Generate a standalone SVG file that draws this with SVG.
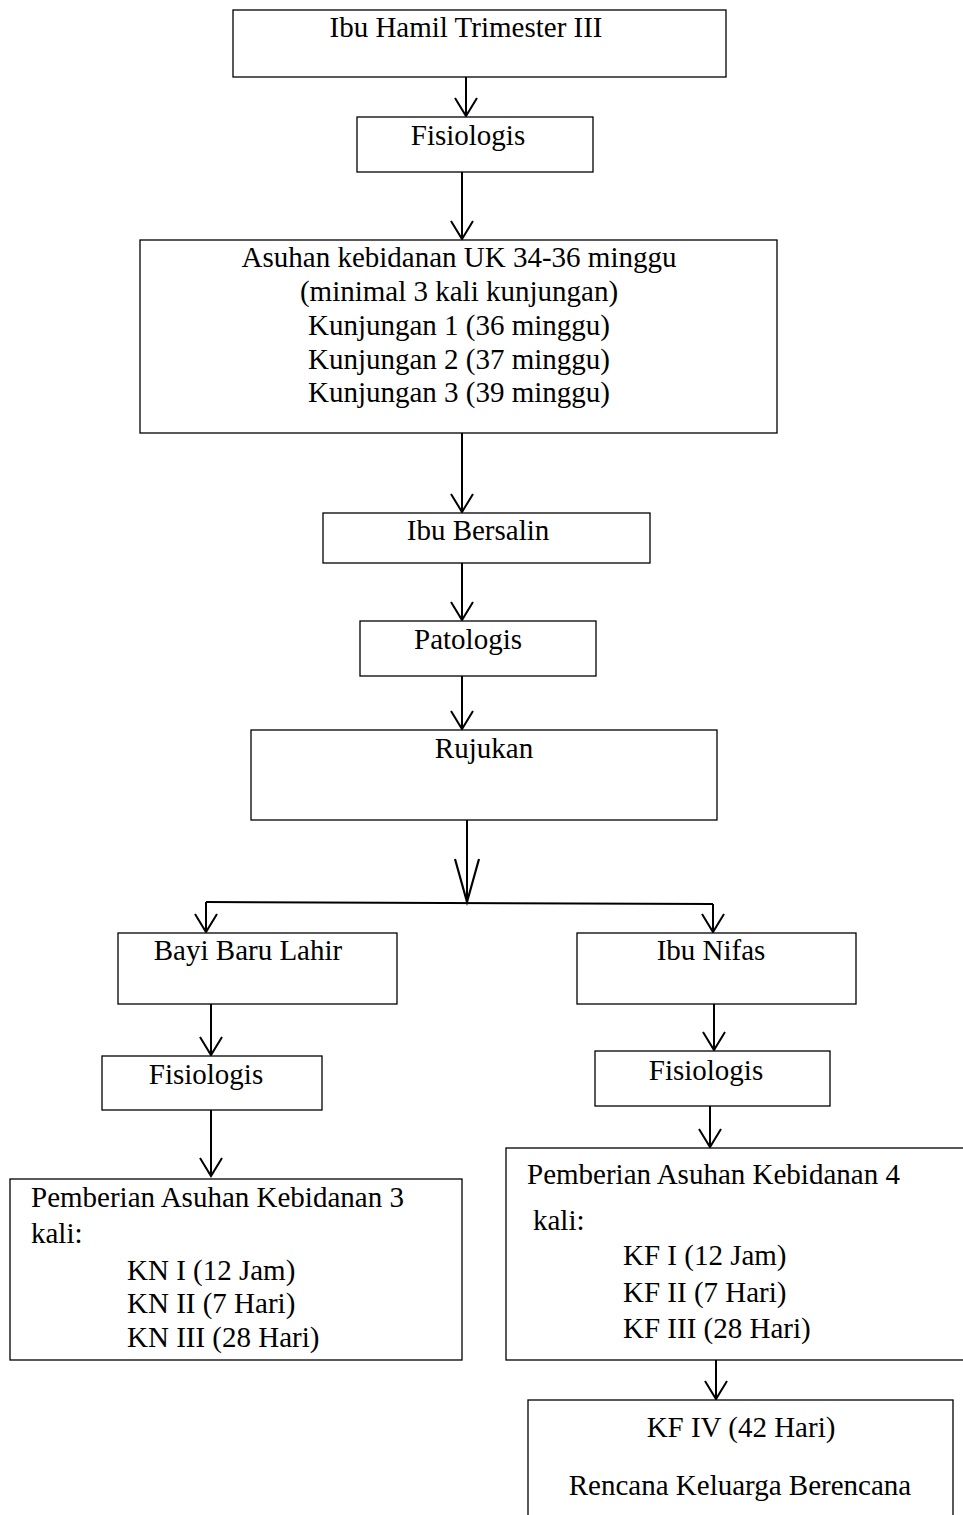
<svg xmlns="http://www.w3.org/2000/svg" width="963" height="1515" viewBox="0 0 963 1515">
<style>
.box{fill:#fff;stroke:#000;stroke-width:1.3}
text{font-family:"Liberation Serif","Times New Roman",serif;font-size:29px;fill:#000}
.c{text-anchor:middle}
.ln{fill:none;stroke:#000;stroke-width:2}
</style>
<defs>
<marker id="ah" markerUnits="userSpaceOnUse" viewBox="-20 -13 22 26" markerWidth="22" markerHeight="26" refX="0" refY="0" orient="auto" overflow="visible">
<path d="M-18,-11 L0,0 L-18,11" fill="none" stroke="#000" stroke-width="2"/>
</marker>
<marker id="ahL" markerUnits="userSpaceOnUse" viewBox="-45 -14 47 28" markerWidth="47" markerHeight="28" refX="0" refY="0" orient="auto" overflow="visible">
<path d="M-43,-12 L0,0 L-43,12" fill="none" stroke="#000" stroke-width="2.2"/>
</marker>
</defs>
<g id="connectors">
<path class="ln" d="M466,77 V116" marker-end="url(#ah)"/>
<path class="ln" d="M462,172 V239" marker-end="url(#ah)"/>
<path class="ln" d="M462,433 V512" marker-end="url(#ah)"/>
<path class="ln" d="M462,563 V620" marker-end="url(#ah)"/>
<path class="ln" d="M462,676 V729" marker-end="url(#ah)"/>
<path class="ln" d="M467,820 V902" marker-end="url(#ahL)"/>
<path class="ln" d="M206,902 L713,904"/>
<path class="ln" d="M206,902 V932" marker-end="url(#ah)"/>
<path class="ln" d="M713,904 V932" marker-end="url(#ah)"/>
<path class="ln" d="M211,1004 V1055" marker-end="url(#ah)"/>
<path class="ln" d="M211,1110 V1176" marker-end="url(#ah)"/>
<path class="ln" d="M714,1004 V1050" marker-end="url(#ah)"/>
<path class="ln" d="M710,1106 V1147" marker-end="url(#ah)"/>
<path class="ln" d="M716,1360 V1399" marker-end="url(#ah)"/>
</g>
<g id="n1"><rect class="box" x="233" y="10" width="493" height="67"/><text class="c" x="466" y="37">Ibu Hamil Trimester III</text></g>
<g id="n2"><rect class="box" x="357" y="117" width="236" height="55"/><text class="c" x="468" y="145">Fisiologis</text></g>
<g id="n3"><rect class="box" x="140" y="240" width="637" height="193"/>
<text class="c" x="459" y="267">Asuhan kebidanan UK 34-36 minggu</text>
<text class="c" x="459" y="301">(minimal 3 kali kunjungan)</text>
<text class="c" x="459" y="335">Kunjungan 1 (36 minggu)</text>
<text class="c" x="459" y="369">Kunjungan 2 (37 minggu)</text>
<text class="c" x="459" y="402">Kunjungan 3 (39 minggu)</text></g>
<g id="n4"><rect class="box" x="323" y="513" width="327" height="50"/><text class="c" x="478" y="540">Ibu Bersalin</text></g>
<g id="n5"><rect class="box" x="360" y="621" width="236" height="55"/><text class="c" x="468" y="649">Patologis</text></g>
<g id="n6"><rect class="box" x="251" y="730" width="466" height="90"/><text class="c" x="484" y="758">Rujukan</text></g>
<g id="n7"><rect class="box" x="118" y="933" width="279" height="71"/><text class="c" x="248" y="960">Bayi Baru Lahir</text></g>
<g id="n8"><rect class="box" x="577" y="933" width="279" height="71"/><text class="c" x="711" y="960">Ibu Nifas</text></g>
<g id="n9"><rect class="box" x="102" y="1056" width="220" height="54"/><text class="c" x="206" y="1084">Fisiologis</text></g>
<g id="n10"><rect class="box" x="595" y="1051" width="235" height="55"/><text class="c" x="706" y="1080">Fisiologis</text></g>
<g id="n11"><rect class="box" x="10" y="1179" width="452" height="181"/>
<text x="31" y="1207">Pemberian Asuhan Kebidanan 3</text>
<text x="31" y="1243">kali:</text>
<text x="127" y="1280">KN I (12 Jam)</text>
<text x="127" y="1313">KN II (7 Hari)</text>
<text x="127" y="1347">KN III (28 Hari)</text></g>
<g id="n12"><rect class="box" x="506" y="1148" width="462" height="212"/>
<text x="527" y="1184">Pemberian Asuhan Kebidanan 4</text>
<text x="533" y="1230">kali:</text>
<text x="623" y="1265">KF I (12 Jam)</text>
<text x="623" y="1302">KF II (7 Hari)</text>
<text x="623" y="1338">KF III (28 Hari)</text></g>
<g id="n13"><rect class="box" x="528" y="1400" width="425" height="130"/>
<text class="c" x="741" y="1437">KF IV (42 Hari)</text>
<text class="c" x="740" y="1495">Rencana Keluarga Berencana</text></g>
</svg>
